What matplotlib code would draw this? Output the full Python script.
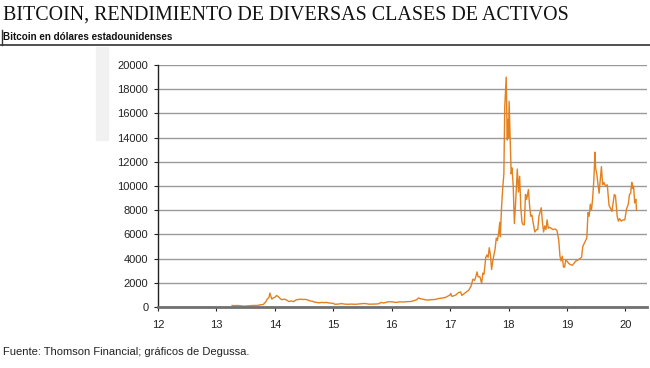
import matplotlib
matplotlib.use('Agg')
import matplotlib.pyplot as plt
from matplotlib.lines import Line2D
from matplotlib.patches import Rectangle

# Bitcoin price in USD, x = year (12 = 2012 ... 20 = 2020)
years = [
    13.27, 13.29, 13.31, 13.34, 13.37, 13.40, 13.43, 13.47, 13.50, 13.53,
    13.56, 13.60, 13.64, 13.68, 13.72, 13.76, 13.80, 13.84, 13.87, 13.90,
    13.915, 13.93, 13.95, 13.97, 14.00, 14.03, 14.06, 14.09, 14.12, 14.16,
    14.20, 14.24, 14.28, 14.32, 14.36, 14.40, 14.44, 14.48, 14.52, 14.56,
    14.60, 14.64, 14.68, 14.72, 14.76, 14.80, 14.84, 14.88, 14.92, 14.96,
    15.00, 15.03, 15.06, 15.10, 15.14, 15.18, 15.22, 15.26, 15.30, 15.34,
    15.38, 15.42, 15.46, 15.50, 15.54, 15.58, 15.62, 15.66, 15.70, 15.74,
    15.78, 15.82, 15.86, 15.90, 15.94, 15.98, 16.02, 16.06, 16.10, 16.14,
    16.18, 16.22, 16.26, 16.30, 16.34, 16.38, 16.42, 16.46, 16.49, 16.52,
    16.56, 16.60, 16.64, 16.68, 16.72, 16.76, 16.80, 16.84, 16.88, 16.92,
    16.96, 17.00, 17.01, 17.03, 17.06, 17.10, 17.14, 17.18, 17.20, 17.24,
    17.28, 17.32, 17.36, 17.39, 17.42, 17.44, 17.46, 17.48, 17.51, 17.54,
    17.56, 17.58, 17.61, 17.63, 17.65, 17.67, 17.69, 17.71, 17.73, 17.75,
    17.77, 17.79, 17.81, 17.83, 17.85, 17.86, 17.88, 17.90, 17.92, 17.935,
    17.96, 17.97, 17.98, 17.985, 18.00, 18.01, 18.03, 18.045, 18.06, 18.08,
    18.10, 18.12, 18.14, 18.15, 18.17, 18.19, 18.21, 18.23, 18.25, 18.27,
    18.29, 18.31, 18.34, 18.36, 18.38, 18.40, 18.42, 18.45, 18.48, 18.50,
    18.52, 18.56, 18.58, 18.60, 18.62, 18.64, 18.66, 18.68, 18.70, 18.73,
    18.76, 18.80, 18.83, 18.86, 18.88, 18.90, 18.92, 18.94, 18.96, 18.98,
    19.00, 19.03, 19.06, 19.09, 19.12, 19.15, 19.18, 19.22, 19.25, 19.27,
    19.30, 19.34, 19.36, 19.38, 19.40, 19.42, 19.44, 19.46, 19.48, 19.49,
    19.51, 19.53, 19.55, 19.57, 19.59, 19.61, 19.63, 19.66, 19.69, 19.72,
    19.74, 19.77, 19.81, 19.83, 19.86, 19.88, 19.90, 19.93, 19.96, 19.99,
    20.02, 20.05, 20.07, 20.09, 20.11, 20.12, 20.14, 20.16, 20.18, 20.19,
]
prices = [
    130, 95, 120, 110, 125, 105, 95, 70, 80, 95,
    105, 120, 130, 125, 140, 190, 200, 400, 650, 800,
    1150, 900, 650, 750, 800, 950, 850, 700, 600, 650,
    580, 450, 500, 440, 580, 620, 650, 620, 630, 590,
    500, 480, 400, 380, 340, 380, 360, 380, 340, 320,
    300, 220, 230, 250, 280, 250, 230, 225, 240, 235,
    225, 240, 260, 280, 290, 260, 230, 235, 240, 250,
    270, 380, 330, 380, 430, 430, 420, 380, 400, 430,
    415, 420, 440, 450, 460, 530, 580, 750, 680, 660,
    620, 575, 585, 605, 615, 640, 700, 720, 750, 790,
    900, 1000, 1120, 880, 920, 1000, 1180, 1250, 960, 1100,
    1250, 1400, 1750, 2300, 2200, 2500, 2900, 2500, 2500, 1950,
    2800, 2700, 4100, 4300, 4100, 4900, 4300, 3100, 3800, 4300,
    4800, 5700, 5500, 6100, 7000, 5800, 8200, 9800, 11000, 16500,
    19000, 16000, 13800, 15500, 14000, 17000, 13500, 11000, 11500, 10000,
    6900, 8500, 10500, 11400, 9500, 10800, 8200, 7000, 6800, 6800,
    9300, 8900, 9700, 8400, 7500, 7600, 7000, 6200, 6400, 6400,
    7500, 8200, 7000, 6200, 6700, 6400, 7200, 6500, 6600, 6500,
    6400, 6450, 6300, 5500, 4200, 3800, 4200, 3300, 3300, 3900,
    3800, 3600, 3500, 3450, 3600, 3800, 3850, 4000, 4100, 5000,
    5300, 5700, 7800, 7500, 8500, 8000, 9000, 10500, 12800, 11500,
    11000, 10200, 9400, 10500, 11600, 10100, 10300, 10000, 10100, 8400,
    8200, 7900, 9300, 9200, 7500, 7100, 7300, 7100, 7200, 7200,
    8100, 8500, 9300, 9400, 10300, 9800, 10000, 8600, 8900, 8000,
]

x_ticks = [12, 13, 14, 15, 16, 17, 18, 19, 20]
y_ticks = list(range(0, 20001, 2000))

title = 'BITCOIN, RENDIMIENTO DE DIVERSAS CLASES DE ACTIVOS'
subtitle = 'Bitcoin en dólares estadounidenses'
source = 'Fuente: Thomson Financial; gráficos de Degussa.'

plt.rcParams['font.family'] = ['Liberation Sans', 'DejaVu Sans']

fig = plt.figure(figsize=(6.5, 3.68), dpi=100)
W, H = 650, 368

# faint grey strip artefact at the left of the plot
fig.patches.append(Rectangle((96 / W, 1 - 140 / H), 12 / W, 93 / H,
                             transform=fig.transFigure, color='#f1f1f1', zorder=0))

ax = fig.add_axes([158 / W, 1 - 307 / H, (647 - 158) / W, (307 - 65) / H])
ax.plot(years, prices, color='#e4801e', lw=1.0, zorder=3)

ax.set_xlim(12, 20.37)
ax.set_ylim(0, 20000)
ax.set_xticks(x_ticks)
ax.set_xticklabels([str(t) for t in x_ticks])
ax.set_yticks(y_ticks)
ax.set_yticklabels([str(t) for t in y_ticks])
ax.yaxis.grid(True, color='#9a9a9a', lw=1.0)
ax.set_axisbelow(True)

for s in ['top', 'right']:
    ax.spines[s].set_visible(False)
ax.spines['left'].set_color('#222222')
ax.spines['left'].set_linewidth(1.0)
ax.spines['bottom'].set_color('#707070')
ax.spines['bottom'].set_linewidth(2.0)
ax.spines['bottom'].set_zorder(4)

ax.tick_params(axis='both', labelsize=8, colors='#222222', length=3, width=0.8, pad=4)
ax.tick_params(axis='x', pad=6)

fig.text(3 / W, 1 - 15 / H, title, family='Liberation Serif', fontsize=14.4,
         va='center', ha='left', color='#111111')
fig.text(3 / W, 1 - 37 / H, subtitle, fontsize=7.1, fontweight='bold',
         va='center', ha='left', color='#111111')
fig.add_artist(Line2D([0, 1], [1 - 45 / H, 1 - 45 / H], transform=fig.transFigure,
                      color='#333333', lw=1.2))
fig.add_artist(Line2D([1.5 / W, 1.5 / W], [1 - 30 / H, 1 - 45 / H], transform=fig.transFigure,
                      color='#333333', lw=1.0))
fig.text(3 / W, 1 - 352 / H, source, fontsize=8, va='center', ha='left', color='#222222')

fig.savefig('out.png', dpi=100)
